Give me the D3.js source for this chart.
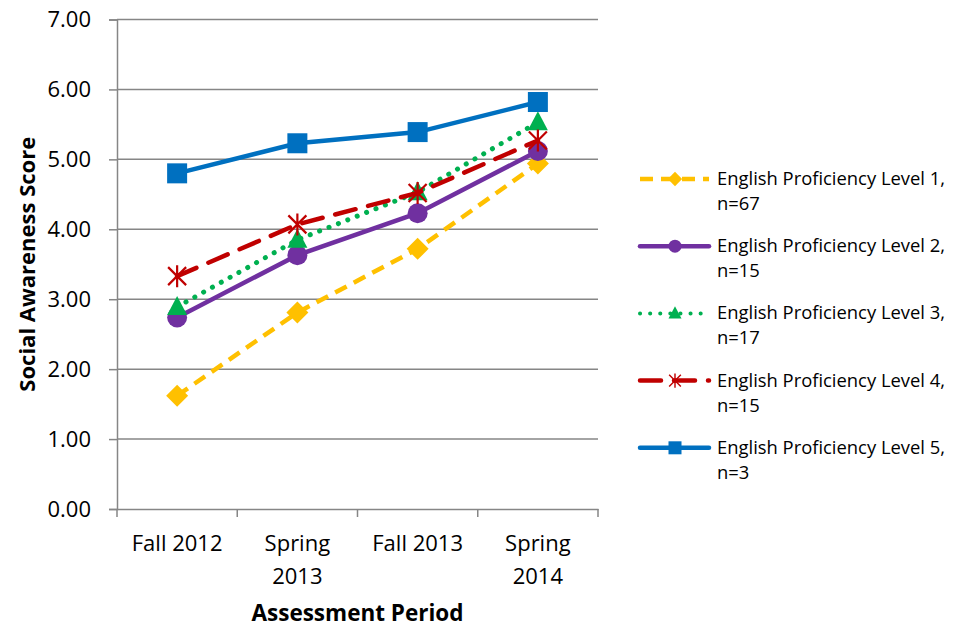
<!DOCTYPE html>
<html>
<body style="margin:0;background:#fff">
<style>
  body { font-family: "Open Sans", sans-serif; }
  .tick text { fill: #000; }
</style>
<svg id="chart" width="953" height="629"></svg>
<script src="https://cdn.jsdelivr.net/npm/d3@7"></script>
<script>

var periods = ["Fall 2012", "Spring 2013", "Fall 2013", "Spring 2014"];
var periodLines = [["Fall 2012"], ["Spring", "2013"], ["Fall 2013"], ["Spring", "2014"]];
var yTicks = [0, 1, 2, 3, 4, 5, 6, 7];

var level1 = [1.62, 2.81, 3.72, 4.94];
var level2 = [2.74, 3.63, 4.23, 5.12];
var level3 = [2.89, 3.85, 4.53, 5.53];
var level4 = [3.33, 4.07, 4.52, 5.27];
var level5 = [4.80, 5.23, 5.39, 5.82];

var seriesNames = [
  ["English Proficiency Level 1,", "n=67"],
  ["English Proficiency Level 2,", "n=15"],
  ["English Proficiency Level 3,", "n=17"],
  ["English Proficiency Level 4,", "n=15"],
  ["English Proficiency Level 5,", "n=3"]
];

var series = [
  { name: seriesNames[0], values: level1, color: "#FFC000", dash: "13,8", cap: "butt", marker: "diamond" },
  { name: seriesNames[1], values: level2, color: "#7030A0", dash: null, cap: "round", marker: "circle" },
  { name: seriesNames[2], values: level3, color: "#00B050", dash: "0.1,10", cap: "round", marker: "triangle" },
  { name: seriesNames[3], values: level4, color: "#C00000", dash: "21,13", cap: "round", marker: "star" },
  { name: seriesNames[4], values: level5, color: "#0070C0", dash: null, cap: "round", marker: "square" }
];

var svg = d3.select("#chart");
var plotLeft = 117, plotRight = 598, plotTop = 19.5, plotBottom = 509;
var axisColor = "#868686";

var x = d3.scaleBand().domain(periods).range([plotLeft, plotRight]);
var y = d3.scaleLinear().domain([0, 7]).range([plotBottom, plotTop]);

// gridlines
svg.append("g")
  .selectAll("line")
  .data(yTicks.slice(1))
  .enter().append("line")
    .attr("x1", plotLeft).attr("x2", plotRight)
    .attr("y1", function(d) { return y(d); })
    .attr("y2", function(d) { return y(d); })
    .attr("stroke", axisColor)
    .attr("stroke-width", 1.5);

// y axis
var yAxis = svg.append("g")
    .attr("transform", "translate(" + plotLeft + ",0)")
    .call(d3.axisLeft(y).tickValues(yTicks).tickFormat(d3.format(".2f")).tickSize(8).tickPadding(18));
yAxis.select(".domain").attr("stroke", axisColor).attr("stroke-width", 1.5);
yAxis.selectAll(".tick line").attr("stroke", axisColor).attr("stroke-width", 1.5);
yAxis.selectAll(".tick text")
    .style("font-family", "Open Sans")
    .style("font-size", "22px");

// x axis
var xAxis = svg.append("g")
    .attr("transform", "translate(0," + plotBottom + ")")
    .call(d3.axisBottom(x).tickSize(0).tickFormat(""));
xAxis.select(".domain").attr("stroke", axisColor).attr("stroke-width", 1.5);
xAxis.selectAll(".bound")
  .data(d3.range(periods.length + 1))
  .enter().append("line")
    .attr("x1", function(i) { return plotLeft + i * x.step(); })
    .attr("x2", function(i) { return plotLeft + i * x.step(); })
    .attr("y1", 0).attr("y2", 8)
    .attr("stroke", axisColor)
    .attr("stroke-width", 1.5);

svg.append("g").selectAll("text")
  .data(periods)
  .enter().append("text")
    .attr("text-anchor", "middle")
    .style("font-size", "22px")
    .attr("x", function(d) { return x(d) + x.bandwidth() / 2; })
    .attr("y", 551)
    .each(function(d, i) {
      var t = d3.select(this);
      periodLines[i].forEach(function(s, j) {
        t.append("tspan")
          .attr("x", x(d) + x.bandwidth() / 2)
          .attr("dy", j === 0 ? 0 : 33)
          .text(s);
      });
    });

// axis titles
svg.append("text")
    .attr("x", (plotLeft + plotRight) / 2)
    .attr("y", 621)
    .attr("text-anchor", "middle")
    .style("font-size", "22.5px")
    .style("font-weight", "bold")
    .text("Assessment Period");

svg.append("text")
    .attr("transform", "translate(35," + (plotTop + plotBottom) / 2 + ") rotate(-90)")
    .attr("text-anchor", "middle")
    .style("font-size", "22px")
    .style("font-weight", "bold")
    .text("Social Awareness Score");

function drawMarker(g, type, color) {
  if (type === "circle") {
    g.append("circle").attr("r", 10).attr("fill", color);
  } else if (type === "square") {
    g.append("rect").attr("x", -10).attr("y", -10).attr("width", 20).attr("height", 20).attr("fill", color);
  } else if (type === "diamond") {
    g.append("path").attr("d", "M0,-11L11,0L0,11L-11,0Z").attr("fill", color);
  } else if (type === "triangle") {
    g.append("path").attr("d", "M0,-11L10,8L-10,8Z").attr("fill", color);
  } else if (type === "star") {
    g.append("path")
      .attr("d", "M-9,-9L9,9M-9,9L9,-9M0,-11L0,11")
      .attr("stroke", color).attr("stroke-width", 2.2).attr("fill", "none");
  }
}

var line = d3.line()
    .x(function(d, i) { return x(periods[i]) + x.bandwidth() / 2; })
    .y(function(d) { return y(d); });

series.forEach(function(s) {
  svg.append("path")
    .datum(s.values)
    .attr("d", line)
    .attr("fill", "none")
    .attr("stroke", s.color)
    .attr("stroke-width", s.marker === "triangle" ? 5 : 4.5)
    .attr("stroke-linecap", s.cap)
    .attr("stroke-dasharray", s.dash);
  svg.append("g").selectAll("g")
    .data(s.values)
    .enter().append("g")
      .attr("transform", function(d, i) {
        return "translate(" + (x(periods[i]) + x.bandwidth() / 2) + "," + y(d) + ")";
      })
      .each(function() { drawMarker(d3.select(this), s.marker, s.color); });
});

// legend
var legend = svg.append("g").selectAll("g")
  .data(series)
  .enter().append("g")
    .attr("transform", function(d, i) { return "translate(638," + (179 + i * 67.2) + ")"; });

legend.append("line")
    .attr("x1", 2).attr("x2", 71)
    .attr("stroke", function(d) { return d.color; })
    .attr("stroke-width", function(d) { return d.marker === "triangle" ? 4 : 4.5; })
    .attr("stroke-linecap", function(d) { return d.cap; })
    .attr("stroke-dasharray", function(d) { return d.dash ? d.dash : null; });

legend.each(function(d) {
  var g = d3.select(this).append("g").attr("transform", "translate(37,0) scale(0.65)");
  drawMarker(g, d.marker, d.color);
});

legend.append("text")
    .attr("x", 79)
    .attr("y", 6)
    .style("font-size", "18.4px")
    .each(function(d) {
      var t = d3.select(this);
      d.name.forEach(function(s, j) {
        t.append("tspan").attr("x", 79).attr("dy", j === 0 ? 0 : 25).text(s);
      });
    });

</script>
</body>
</html>
